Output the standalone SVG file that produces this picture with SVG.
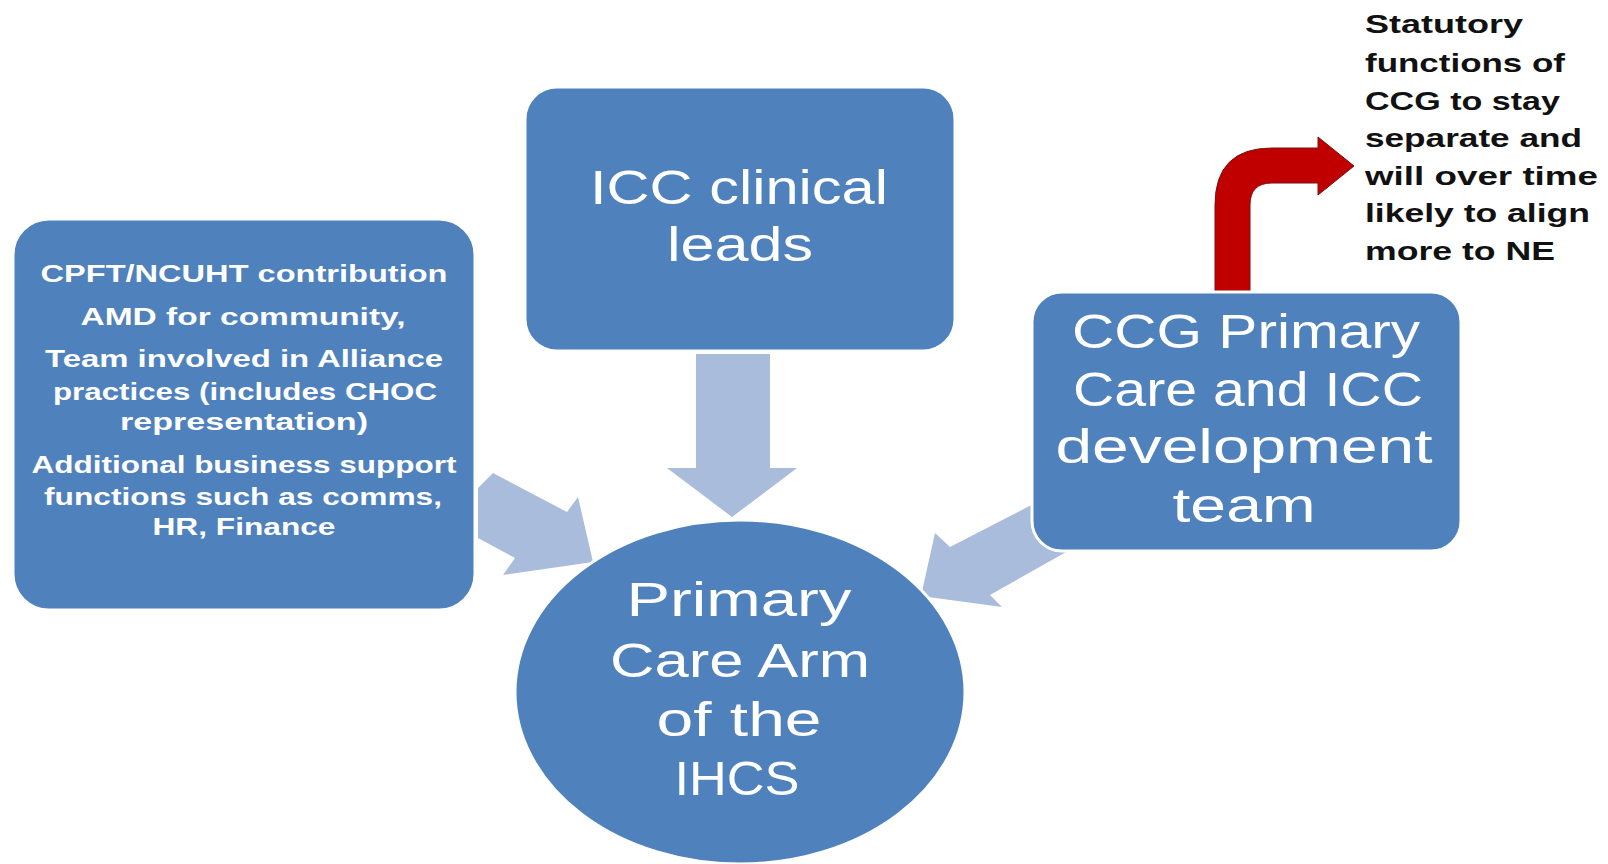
<svg xmlns="http://www.w3.org/2000/svg" width="1608" height="864" viewBox="0 0 1608 864">
  <style>
    .box { fill: #4F81BD; stroke: #ffffff; stroke-width: 3; }
    .flow { fill: #A9BCDB; }
    .big { font-family: "Liberation Sans", Arial, sans-serif; font-size: 48px; fill: #ffffff; text-anchor: middle; }
    .small { font-family: "Liberation Sans", Arial, sans-serif; font-size: 24px; font-weight: bold; fill: #ffffff; text-anchor: middle; }
    .note { font-family: "Liberation Sans", Arial, sans-serif; font-size: 25px; font-weight: bold; fill: #111111; }
  </style>
  <rect width="1608" height="864" fill="#ffffff"/>

  <g id="connectors">
    <polygon class="flow" points="696,354 770,354 770,468 797,468 732,517 667,468 696,468"/>
    <polygon class="flow" points="493,473 478,488 478,538 515,558 503,575 593,562 578,497 567,512"/>
    <polygon class="flow" points="1045,498 950,547 935,533 921,596 1002,607 990,595 1075,547"/>
    <path d="M1215,306 L1215,205 Q1215,148 1272,148 L1318,148 L1318,137 L1354,166 L1318,195 L1318,183 L1272,183 Q1250,183 1250,205 L1250,306 Z" fill="#C00000" stroke="#7a1010" stroke-width="1"/>
  </g>

  <g id="node-left">
    <rect class="box" x="13" y="219" width="462" height="391" rx="36"/>
    <text class="small" x="244" y="282" textLength="407" lengthAdjust="spacingAndGlyphs">CPFT/NCUHT contribution</text>
    <text class="small" x="243" y="325" textLength="325" lengthAdjust="spacingAndGlyphs">AMD for community,</text>
    <text class="small" x="244" y="367" textLength="398" lengthAdjust="spacingAndGlyphs">Team involved in Alliance</text>
    <text class="small" x="245" y="400" textLength="384" lengthAdjust="spacingAndGlyphs">practices (includes CHOC</text>
    <text class="small" x="244" y="430" textLength="248" lengthAdjust="spacingAndGlyphs">representation)</text>
    <text class="small" x="244" y="473" textLength="425" lengthAdjust="spacingAndGlyphs">Additional business support</text>
    <text class="small" x="243" y="505" textLength="398" lengthAdjust="spacingAndGlyphs">functions such as comms,</text>
    <text class="small" x="244" y="535" textLength="183" lengthAdjust="spacingAndGlyphs">HR, Finance</text>
  </g>

  <g id="node-center">
    <rect class="box" x="525" y="87" width="430" height="264" rx="32"/>
    <text class="big" x="739" y="204" textLength="298" lengthAdjust="spacingAndGlyphs">ICC clinical</text>
    <text class="big" x="740" y="261" textLength="146" lengthAdjust="spacingAndGlyphs">leads</text>
  </g>

  <g id="node-right">
    <rect class="box" x="1032" y="292" width="429" height="259" rx="30"/>
    <text class="big" x="1246" y="348" textLength="348" lengthAdjust="spacingAndGlyphs">CCG Primary</text>
    <text class="big" x="1248" y="406" textLength="350" lengthAdjust="spacingAndGlyphs">Care and ICC</text>
    <text class="big" x="1244" y="463" textLength="377" lengthAdjust="spacingAndGlyphs">development</text>
    <text class="big" x="1244" y="522" textLength="143" lengthAdjust="spacingAndGlyphs">team</text>
  </g>

  <g id="node-circle">
    <ellipse class="box" cx="740" cy="692" rx="225" ry="172" stroke-width="2"/>
    <text class="big" x="739" y="616" textLength="225" lengthAdjust="spacingAndGlyphs">Primary</text>
    <text class="big" x="740" y="677" textLength="260" lengthAdjust="spacingAndGlyphs">Care Arm</text>
    <text class="big" x="739" y="736" textLength="165" lengthAdjust="spacingAndGlyphs">of the</text>
    <text class="big" x="737" y="795" textLength="125" lengthAdjust="spacingAndGlyphs">IHCS</text>
  </g>

  <g id="note">
    <text class="note" x="1365" y="33" textLength="158" lengthAdjust="spacingAndGlyphs">Statutory</text>
    <text class="note" x="1365" y="72" textLength="200" lengthAdjust="spacingAndGlyphs">functions of</text>
    <text class="note" x="1365" y="110" textLength="195" lengthAdjust="spacingAndGlyphs">CCG to stay</text>
    <text class="note" x="1365" y="147" textLength="217" lengthAdjust="spacingAndGlyphs">separate and</text>
    <text class="note" x="1365" y="185" textLength="233" lengthAdjust="spacingAndGlyphs">will over time</text>
    <text class="note" x="1365" y="222" textLength="225" lengthAdjust="spacingAndGlyphs">likely to align</text>
    <text class="note" x="1365" y="260" textLength="190" lengthAdjust="spacingAndGlyphs">more to NE</text>
  </g>
</svg>
